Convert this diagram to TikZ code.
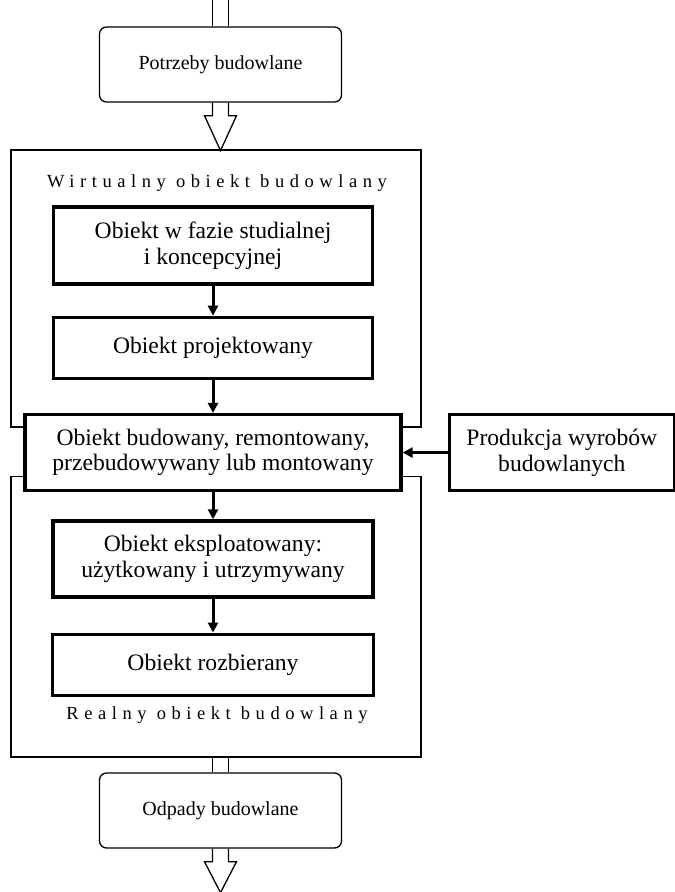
\documentclass[tikz,border=0pt]{standalone}
\usepackage{fontspec}
\setmainfont{Liberation Serif}
\usetikzlibrary{calc}
\usetikzlibrary{positioning}
\usetikzlibrary{arrows.meta}
\tikzset{node distance=30pt, % Gap between two stages. Changed per node where needed.
  every node/.style={align=center},
         stage/.style={ % Thick boxes for the phases of the object
           draw, line width=3.3pt, inner sep=2pt,
           font=\fontsize{23.6}{25.5}\selectfont},
         outer/.style={ % Rounded boxes outside the frame
           draw, line width=1.3pt, rounded corners=7pt,
           minimum width=242pt, minimum height=75pt,
           font=\fontsize{20}{24}\selectfont},
         frame/.style={line width=1.3pt, line join=miter},
         spaced/.style={ % Letter-spaced titles inside the frame
           font=\fontsize{18.5}{22}\selectfont\addfontfeature{LetterSpace=30}},
         flow/.style={ % Arrows between stages
           draw, line width=3pt,
           -{Triangle[length=10pt,width=10pt]}}}

% hollow arrow: start point, shaft length, head length
\newcommand{\hollowarrow}[3]{%
  \draw[frame] ($(#1)+(-8,0)$) -- ++(0,-#2) -- ++(-8,0) -- ($(#1)+(0,-#2-#3)$)
    -- ($(#1)+(16,-#2)$) -- ++(-8,0) -- ($(#1)+(8,0)$);}

\begin{document}
\begin{tikzpicture}[x=1pt, y=1pt]
  \useasboundingbox (0,0) rectangle (675,-892);

  \node [outer] (need) at (220.5,-64.5) {Potrzeby budowlane};

  \node [spaced] (virt) at (217,-183) {Wirtualny obiekt budowlany};

  \node [stage, minimum width=319pt, minimum height=77pt] (s1) at (213,-245.5)
    {Obiekt w fazie studialnej\\ i koncepcyjnej};
  \node [stage, minimum width=319pt, minimum height=61pt, below=30pt of s1] (s2)
    {Obiekt projektowany};
  \node [stage, minimum width=376pt, minimum height=76pt, below=33pt of s2] (s3)
    {Obiekt budowany, remontowany,\\ przebudowywany lub montowany};
  \node [stage, minimum width=225pt, minimum height=76pt, right=45pt of s3] (prod)
    {Produkcja wyrobów\\ budowlanych};
  \node [stage, minimum width=320pt, minimum height=76pt, below=27pt of s3] (s4)
    {Obiekt eksploatowany:\\ użytkowany i utrzymywany};
  \node [stage, minimum width=321pt, minimum height=61pt, below=34pt of s4] (s5)
    {Obiekt rozbierany};

  \node [spaced] (real) at (217,-715) {Realny obiekt budowlany};

  \node [outer] (waste) at (220.5,-810.5) {Odpady budowlane};

  % frame split by the building stage
  \coordinate (fnw) at (11,-150);
  \coordinate (fse) at (421,-757);
  \coordinate (gapnw) at ([yshift=-14pt]s3.north west);
  \coordinate (gapne) at ([yshift=-14pt]s3.north east);
  \coordinate (gapsw) at ([yshift=16pt]s3.south west);
  \coordinate (gapse) at ([yshift=16pt]s3.south east);
  \draw [frame] (gapnw) -| (fnw) -| (gapne -| fse) -- (gapne);
  \draw [frame] (gapsw) -| (fnw |- fse) -| (gapse -| fse) -- (gapse);

  % stages
  \draw [flow] (s1) -- (s2);
  \draw [flow] (s2) -- (s3);
  \draw [flow] (s3) -- (s4);
  \draw [flow] (s4) -- (s5);
  \draw [flow] (prod) -- (s3);

  % inflow and outflow
  \draw [frame] ($(need.north)+(-8,0)$) -- ++(0,27);
  \draw [frame] ($(need.north)+(8,0)$) -- ++(0,27);
  \hollowarrow{need.south}{13}{35}
  \draw [frame] ($(waste.north)+(-8,0)$) -- ++(0,16);
  \draw [frame] ($(waste.north)+(8,0)$) -- ++(0,16);
  \hollowarrow{waste.south}{13}{31}

\end{tikzpicture}
\end{document}
